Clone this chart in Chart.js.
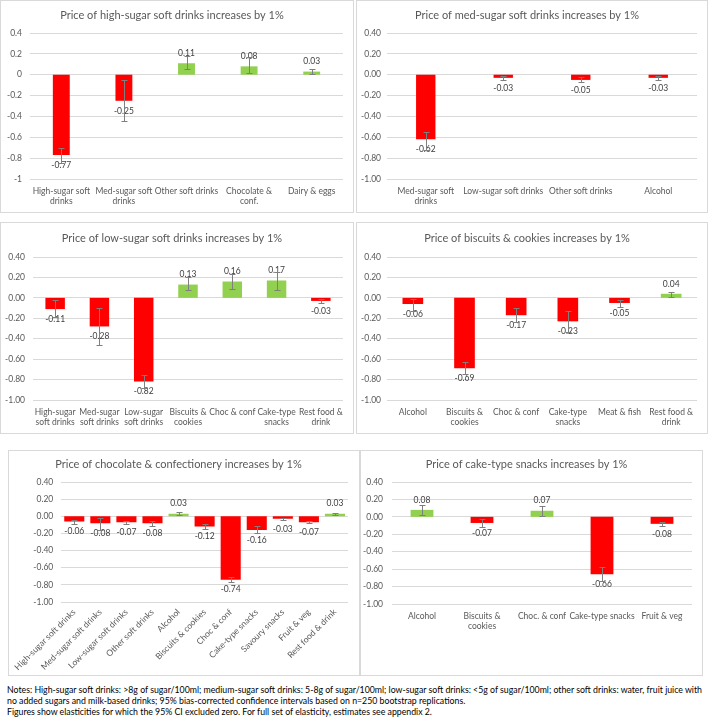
<!DOCTYPE html>
<html>
<head>
<meta charset="utf-8">
<script src="https://cdn.jsdelivr.net/npm/chart.js@4.4.1/dist/chart.umd.min.js"></script>
<style>
    body { margin: 0; background: #ffffff; width: 708px; height: 718px; overflow: hidden; position: relative; font-family: Lato, "Liberation Sans", sans-serif; }
    .panel { position: absolute; box-sizing: border-box; border: 1px solid #d9d9d9; background: #fff; }
    .panel canvas { position: absolute; left: 0; top: 0; }
    .note { position: absolute; left: 7px; font-size: 8.75px; color: #000; white-space: nowrap; line-height: 10px; }
</style>
</head>
<body>

<div class="panel" id="p1"><canvas id="c1"></canvas></div>
<div class="panel" id="p2"><canvas id="c2"></canvas></div>
<div class="panel" id="p3"><canvas id="c3"></canvas></div>
<div class="panel" id="p4"><canvas id="c4"></canvas></div>
<div class="panel" id="p5"><canvas id="c5"></canvas></div>
<div class="panel" id="p6"><canvas id="c6"></canvas></div>

<div class="note" style="top:685px">Notes: High-sugar soft drinks: &gt;8g of sugar/100ml; medium-sugar soft drinks: 5-8g of sugar/100ml; low-sugar soft drinks: &lt;5g of sugar/100ml; other soft drinks: water, fruit juice with</div>
<div class="note" style="top:696px">no added sugars and milk-based drinks; 95% bias-corrected confidence intervals based on n=250 bootstrap replications.</div>
<div class="note" style="top:707px">Figures show elasticities for which the 95% CI excluded zero. For full set of elasticity, estimates see appendix 2.</div>

<script>
// Colours
const RED = '#ff0000';
const GREEN = '#92d050';

// Y axis ticks (shared by all panels)
const yMin = -1;
const yMax = 0.4;
const yStep = 0.2;

// Panel 1 - high-sugar soft drinks
const p1Title = 'Price of high-sugar soft drinks increases by 1%';
const p1Labels = [['High-sugar soft', 'drinks'], ['Med-sugar soft', 'drinks'], 'Other soft drinks', ['Chocolate &', 'conf.'], 'Dairy & eggs'];
const p1Values = [-0.77, -0.25, 0.11, 0.08, 0.03];
const p1Low = [-0.85, -0.44, 0.05, 0.02, 0.01];
const p1High = [-0.70, -0.05, 0.18, 0.17, 0.05];

// Panel 2 - med-sugar soft drinks
const p2Title = 'Price of med-sugar soft drinks increases by 1%';
const p2Labels = [['Med-sugar soft', 'drinks'], 'Low-sugar soft drinks', 'Other soft drinks', 'Alcohol'];
const p2Values = [-0.62, -0.03, -0.05, -0.03];
const p2Low = [-0.72, -0.05, -0.07, -0.05];
const p2High = [-0.55, -0.01, -0.02, -0.01];

// Panel 3 - low-sugar soft drinks
const p3Title = 'Price of low-sugar soft drinks increases by 1%';
const p3Labels = [['High-sugar', 'soft drinks'], ['Med-sugar', 'soft drinks'], ['Low-sugar', 'soft drinks'], ['Biscuits &', 'cookies'], 'Choc & conf', ['Cake-type', 'snacks'], ['Rest food &', 'drink']];
const p3Values = [-0.11, -0.28, -0.82, 0.13, 0.16, 0.17, -0.03];
const p3Low = [-0.19, -0.46, -0.88, 0.08, 0.09, 0.08, -0.05];
const p3High = [-0.02, -0.10, -0.76, 0.20, 0.23, 0.25, -0.01];

// Panel 4 - biscuits & cookies
const p4Title = 'Price of biscuits & cookies increases by 1%';
const p4Labels = ['Alcohol', ['Biscuits &', 'cookies'], 'Choc & conf', ['Cake-type', 'snacks'], 'Meat & fish', ['Rest food &', 'drink']];
const p4Values = [-0.06, -0.69, -0.17, -0.23, -0.05, 0.04];
const p4Low = [-0.13, -0.75, -0.24, -0.33, -0.09, 0.01];
const p4High = [-0.01, -0.63, -0.10, -0.13, -0.02, 0.06];

// Panel 5 - chocolate & confectionery
const p5Title = 'Price of chocolate & confectionery increases by 1%';
const p5Labels = ['High-sugar soft drinks', 'Med-sugar soft drinks', 'Low-sugar soft drinks', 'Other soft drinks', 'Alcohol', 'Biscuits & cookies', 'Choc & conf', 'Cake-type snacks', 'Savoury snacks', 'Fruit & veg', 'Rest food & drink'];
const p5Values = [-0.06, -0.08, -0.07, -0.08, 0.03, -0.12, -0.74, -0.16, -0.03, -0.07, 0.03];
const p5Low = [-0.09, -0.16, -0.09, -0.11, 0.01, -0.15, -0.77, -0.19, -0.04, -0.08, 0.02];
const p5High = [-0.04, -0.02, -0.05, -0.06, 0.05, -0.09, -0.71, -0.11, -0.02, -0.06, 0.04];

// Panel 6 - cake-type snacks
const p6Title = 'Price of cake-type snacks increases by 1%';
const p6Labels = ['Alcohol', ['Biscuits &', 'cookies'], 'Choc. & conf', 'Cake-type snacks', 'Fruit & veg'];
const p6Values = [0.08, -0.07, 0.07, -0.66, -0.08];
const p6Low = [0.02, -0.12, 0.01, -0.74, -0.11];
const p6High = [0.14, -0.02, 0.13, -0.57, -0.06];

Chart.defaults.font.family = 'Lato, "Liberation Sans", sans-serif';
Chart.defaults.color = '#595959';
Chart.defaults.animation = false;

// value labels + error bars, drawn from the y scale
const errorBarPlugin = {
    id: 'errorBars',
    afterDatasetsDraw(chart, args, opts) {
        const ctx = chart.ctx;
        const y = chart.scales.y;
        const meta = chart.getDatasetMeta(0);
        const values = chart.data.datasets[0].data;
        ctx.save();
        ctx.font = '8.5px Lato, "Liberation Sans", sans-serif';
        ctx.fillStyle = '#404040';
        ctx.textAlign = 'center';
        ctx.textBaseline = 'middle';
        meta.data.forEach((bar, i) => {
            const v = values[i];
            ctx.fillText(v.toFixed(2), bar.x, v < 0 ? bar.y + 10 : bar.y - 10);
        });
        ctx.strokeStyle = '#7f7f7f';
        ctx.lineWidth = 1;
        meta.data.forEach((bar, i) => {
            const lo = Math.round(y.getPixelForValue(opts.low[i])) + 0.5;
            const hi = Math.round(y.getPixelForValue(opts.high[i])) + 0.5;
            const x = Math.round(bar.x) + 0.5;
            ctx.beginPath();
            ctx.moveTo(x, lo); ctx.lineTo(x, hi);
            ctx.moveTo(x - 3, lo); ctx.lineTo(x + 3, lo);
            ctx.moveTo(x - 3, hi); ctx.lineTo(x + 3, hi);
            ctx.stroke();
        });
        ctx.restore();
    }
};

// box = outer panel, area = plot area (page px)
function makePanel(n, title, labels, values, low, high, box, area, opt) {
    const div = document.getElementById('p' + n);
    div.style.left = box.x + 'px';
    div.style.top = box.y + 'px';
    div.style.width = box.w + 'px';
    div.style.height = box.h + 'px';
    const cw = box.w - 2, ch = box.h - 2;
    const ox = box.x + 1, oy = box.y + 1;
    const canvas = document.getElementById('c' + n);
    canvas.width = cw; canvas.height = ch;
    canvas.style.width = cw + 'px'; canvas.style.height = ch + 'px';

    const titleSize = 11;
    const titleH = titleSize * 1.2;
    const padTop = area.titleY - oy - titleH / 2;
    const padBottom = area.top - oy - padTop - titleH;

    new Chart(canvas, {
        type: 'bar',
        data: {
            labels: labels,
            datasets: [{
                data: values,
                backgroundColor: values.map(v => v < 0 ? RED : GREEN),
                barPercentage: opt.bar,
                categoryPercentage: 1
            }]
        },
        options: {
            responsive: false,
            layout: { padding: { left: 0, top: 0, bottom: 0, right: ox + cw - area.right } },
            plugins: {
                legend: { display: false },
                tooltip: { enabled: false },
                title: {
                    display: true,
                    text: title,
                    color: '#595959',
                    font: { size: titleSize, weight: 'normal' },
                    padding: { top: padTop, bottom: padBottom }
                },
                errorBars: { low: low, high: high }
            },
            scales: {
                x: {
                    grid: { display: false, drawTicks: false },
                    border: { display: false },
                    ticks: {
                        font: { size: 8.5 },
                        color: '#595959',
                        padding: opt.xPad || 7,
                        autoSkip: false,
                        maxRotation: opt.rot || 0,
                        minRotation: opt.rot || 0
                    },
                    afterFit: s => { s.height = oy + ch - area.bottom; }
                },
                y: {
                    min: yMin,
                    max: yMax,
                    grid: { color: '#d9d9d9', drawTicks: false, lineWidth: 1 },
                    border: { display: false },
                    ticks: {
                        stepSize: yStep,
                        font: { size: 8.5 },
                        color: '#595959',
                        padding: area.left - area.labelRight,
                        callback: v => {
                            const r = Math.abs(v) < 1e-9 ? 0 : v;
                            return opt.general ? String(Number(r.toFixed(1))) : r.toFixed(2);
                        }
                    },
                    afterFit: s => { s.width = area.left - ox; }
                }
            }
        },
        plugins: [errorBarPlugin]
    });
}

makePanel(1, p1Title, p1Labels, p1Values, p1Low, p1High,
    { x: 0, y: 0, w: 354, h: 213 },
    { left: 30, right: 343, top: 33, bottom: 179, titleY: 15, labelRight: 22 },
    { bar: 0.27, general: true });
makePanel(2, p2Title, p2Labels, p2Values, p2Low, p2High,
    { x: 356, y: 0, w: 352, h: 213 },
    { left: 387, right: 697, top: 33, bottom: 179, titleY: 15, labelRight: 381 },
    { bar: 0.25 });
makePanel(3, p3Title, p3Labels, p3Values, p3Low, p3High,
    { x: 0, y: 222, w: 354, h: 212 },
    { left: 33, right: 343, top: 257, bottom: 400, titleY: 238, labelRight: 25 },
    { bar: 0.44 });
makePanel(4, p4Title, p4Labels, p4Values, p4Low, p4High,
    { x: 356, y: 222, w: 352, h: 212 },
    { left: 387, right: 697, top: 257, bottom: 400, titleY: 238, labelRight: 381 },
    { bar: 0.40 });
makePanel(5, p5Title, p5Labels, p5Values, p5Low, p5High,
    { x: 8, y: 450, w: 352, h: 226 },
    { left: 57, right: 348, top: 482, bottom: 602, titleY: 464, labelRight: 49 },
    { bar: 0.77, rot: 45, xPad: 5 });
makePanel(6, p6Title, p6Labels, p6Values, p6Low, p6High,
    { x: 360, y: 450, w: 343, h: 226 },
    { left: 392, right: 692, top: 482, bottom: 604, titleY: 464, labelRight: 383 },
    { bar: 0.38 });
</script>
</body>
</html>
